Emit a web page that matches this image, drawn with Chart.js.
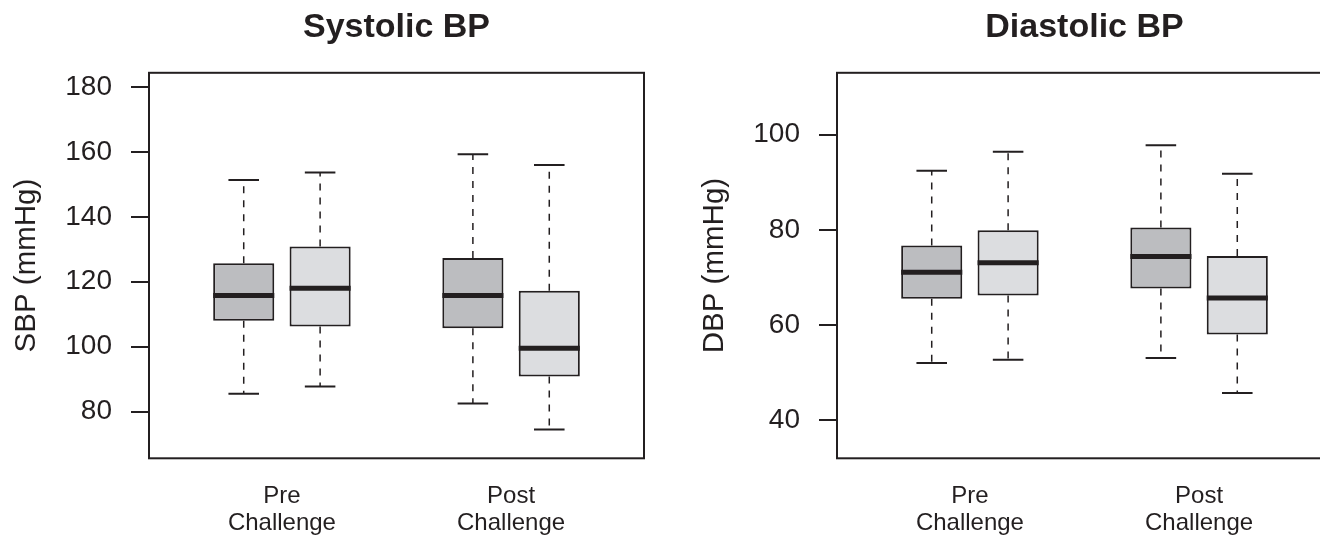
<!DOCTYPE html>
<html>
<head>
<meta charset="utf-8">
<title>Systolic / Diastolic BP</title>
<script src="https://cdn.jsdelivr.net/npm/chart.js@4.4.1/dist/chart.umd.min.js"></script>
<style>
  body { margin: 0; background: #fff; overflow: hidden; }
  #wrap { position: relative; width: 1320px; height: 535px; overflow: hidden; }
  canvas { position: absolute; top: 0; }
</style>
</head>
<body>
<div id="wrap">
  <canvas id="sbp-chart" width="660" height="535" style="left:0"></canvas>
  <canvas id="dbp-chart" width="660" height="535" style="left:688px"></canvas>
</div>
<script>
// groups along the x axis
const timepoints = [["Pre", "Challenge"], ["Post", "Challenge"]];
const seriesNames = ["Group 1", "Group 2"];

// [lower whisker, Q1, median, Q3, upper whisker] for Pre and Post
const sbpGroup1 = [[85.5, 108.0, 115.8, 125.7, 151.4], [82.5, 105.7, 115.8, 127.3, 159.3]];
const sbpGroup2 = [[87.7, 106.2, 118.0, 130.9, 153.7], [74.5, 90.8, 99.5, 117.2, 156.0]];
const dbpGroup1 = [[52.0, 65.5, 71.1, 76.7, 92.4], [53.1, 67.7, 74.4, 80.5, 97.8]];
const dbpGroup2 = [[52.7, 66.2, 73.1, 79.9, 96.4], [45.7, 58.0, 65.7, 74.5, 91.8]];

const sbpTicks = [80, 100, 120, 140, 160, 180];
const dbpTicks = [40, 60, 80, 100];
const sbpLimits = [70, 180];
const dbpLimits = [35, 110];
const xLimits = [0, 6];

const INK = "#231f20";
const FONT = "'Liberation Sans', Arial, Helvetica, sans-serif";
const fills = ["#bcbdc0", "#dcdde0"];

// R style axis extension (4% each side)
function extend(lim) {
  const pad = (lim[1] - lim[0]) * 0.04;
  return { min: lim[0] - pad, max: lim[1] + pad };
}

// whiskers, staples, medians and the plot frame
const boxExtras = {
  id: "boxExtras",
  afterDatasetsDraw(chart) {
    const { ctx, chartArea, scales: { y } } = chart;
    ctx.save();
    ctx.strokeStyle = INK;
    chart.data.datasets.forEach((ds, di) => {
      const meta = chart.getDatasetMeta(di);
      meta.data.forEach((bar, i) => {
        const [lo, q1, med, q3, hi] = ds.data[i].stats;
        const { x, width } = bar.getProps(["x", "width"], true);
        // dashed whiskers
        ctx.lineWidth = 1.5;
        ctx.setLineDash([7, 7]);
        ctx.beginPath();
        ctx.moveTo(x, y.getPixelForValue(q3));
        ctx.lineTo(x, y.getPixelForValue(hi));
        ctx.moveTo(x, y.getPixelForValue(q1));
        ctx.lineTo(x, y.getPixelForValue(lo));
        ctx.stroke();
        // staples
        ctx.setLineDash([]);
        ctx.lineWidth = 2;
        ctx.beginPath();
        [lo, hi].forEach(v => {
          const py = y.getPixelForValue(v);
          ctx.moveTo(x - width / 4, py);
          ctx.lineTo(x + width / 4, py);
        });
        ctx.stroke();
        // median
        ctx.lineWidth = 5;
        ctx.beginPath();
        const my = y.getPixelForValue(med);
        ctx.moveTo(x - width / 2, my);
        ctx.lineTo(x + width / 2, my);
        ctx.stroke();
      });
    });
    ctx.lineWidth = 2;
    ctx.strokeRect(chartArea.left, chartArea.top, chartArea.right - chartArea.left, chartArea.bottom - chartArea.top);
    ctx.restore();
  }
};

function makeDataset(name, stats, s) {
  return {
    label: name,
    data: stats.map((v, g) => ({ x: g * 3 + s + 1, y: [v[1], v[3]], stats: v })),
    backgroundColor: fills[s],
    borderColor: INK,
    borderWidth: 2,
    borderSkipped: false,
    grouped: false,
    categoryPercentage: 0.8,
    barPercentage: 1
  };
}

function makeChart(id, title, yTitle, group1, group2, ticks, limits) {
  const yr = extend(limits);
  const xr = extend(xLimits);
  return new Chart(document.getElementById(id), {
    type: "bar",
    data: {
      datasets: [makeDataset(seriesNames[0], group1, 0), makeDataset(seriesNames[1], group2, 1)]
    },
    options: {
      responsive: false,
      animation: false,
      layout: { padding: { left: 0, right: 16, top: 0, bottom: 0 } },
      plugins: {
        legend: { display: false },
        tooltip: { enabled: false },
        title: {
          display: true,
          text: title,
          fullSize: false,
          color: INK,
          font: { family: FONT, size: 34, weight: "bold" },
          padding: { top: 7, bottom: 25 }
        }
      },
      scales: {
        x: {
          type: "linear",
          min: xr.min,
          max: xr.max,
          offset: false,
          grid: { display: false, drawTicks: false },
          border: { display: false },
          afterBuildTicks: scale => {
            scale.ticks = timepoints.map((t, g) => ({ value: g * 3 + 1.5 }));
          },
          afterFit: scale => { scale.height = 76.7; },
          ticks: {
            autoSkip: false,
            maxRotation: 0,
            padding: 25,
            color: INK,
            font: { family: FONT, size: 24, lineHeight: 1.1 },
            callback: (value, index) => timepoints[index]
          }
        },
        y: {
          min: yr.min,
          max: yr.max,
          grid: { display: true, drawOnChartArea: false, drawTicks: true, tickLength: 18, color: INK, lineWidth: 2 },
          border: { display: false },
          afterBuildTicks: scale => {
            scale.ticks = ticks.map(v => ({ value: v }));
          },
          afterFit: scale => { scale.width = 149; },
          ticks: {
            padding: 19,
            color: INK,
            font: { family: FONT, size: 28 }
          },
          title: {
            display: true,
            text: yTitle,
            color: INK,
            font: { family: FONT, size: 29.5 },
            padding: { top: 9.3, bottom: 0 }
          }
        }
      }
    },
    plugins: [boxExtras]
  });
}

makeChart("sbp-chart", "Systolic BP", "SBP (mmHg)", sbpGroup1, sbpGroup2, sbpTicks, sbpLimits);
makeChart("dbp-chart", "Diastolic BP", "DBP (mmHg)", dbpGroup1, dbpGroup2, dbpTicks, dbpLimits);
</script>
</body>
</html>
